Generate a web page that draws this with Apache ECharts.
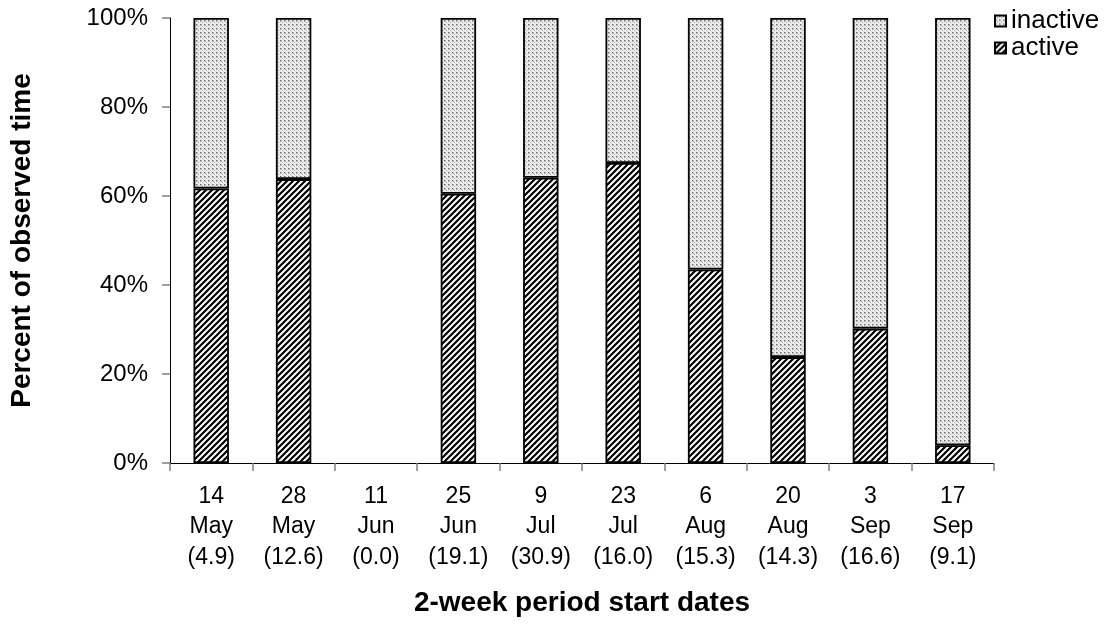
<!DOCTYPE html>
<html>
<head>
<meta charset="utf-8">
<script src="https://cdn.jsdelivr.net/npm/echarts@6/dist/echarts.min.js"></script>
<style>
html,body{margin:0;padding:0;background:#fff;}
#chart{width:1109px;height:624px;}
</style>
</head>
<body>
<div id="chart"></div>
<script>
const categories = ['14\nMay\n(4.9)', '28\nMay\n(12.6)', '11\nJun\n(0.0)', '25\nJun\n(19.1)', '9\nJul\n(30.9)', '23\nJul\n(16.0)', '6\nAug\n(15.3)', '20\nAug\n(14.3)', '3\nSep\n(16.6)', '17\nSep\n(9.1)'];
const activeValues = [61.7, 63.8, 0, 60.5, 64.1, 67.4, 43.5, 23.8, 30.2, 4.0];
const inactiveValues = [38.3, 36.2, 0, 39.5, 35.9, 32.6, 56.5, 76.2, 69.8, 96.0];
const yTicks = [0, 20, 40, 60, 80, 100];

function hatchPattern() {
  const c = document.createElement('canvas');
  c.width = 6; c.height = 6;
  const g = c.getContext('2d');
  g.fillStyle = '#ffffff';
  g.fillRect(0, 0, 6, 6);
  g.strokeStyle = '#000000';
  g.lineWidth = 2.2;
  g.beginPath();
  g.moveTo(-3, 3); g.lineTo(3, -3);
  g.moveTo(0, 6); g.lineTo(6, 0);
  g.moveTo(3, 9); g.lineTo(9, 3);
  g.stroke();
  return c;
}
function dotPattern() {
  const c = document.createElement('canvas');
  c.width = 4; c.height = 4;
  const g = c.getContext('2d');
  g.fillStyle = '#ececec';
  g.fillRect(0, 0, 4, 4);
  g.fillStyle = '#6e6e6e';
  g.fillRect(0, 0, 1.5, 1.5);
  g.fillStyle = '#a8a8a8';
  g.fillRect(2, 2, 1, 1);
  return c;
}
const toBars = arr => arr.map(v => (v === 0 ? '-' : v));

const chart = echarts.init(document.getElementById('chart'), null, {renderer: 'canvas'});
const font = 'Liberation Sans, Arial, sans-serif';
chart.setOption({
  animation: false,
  backgroundColor: '#ffffff',
  textStyle: {fontFamily: font},
  grid: {left: 170, right: 115, top: 18, bottom: 161, containLabel: false, outerBoundsMode: 'none'},
  legend: {
    data: ['inactive', 'active'],
    orient: 'vertical',
    left: 994, top: 8, padding: 0,
    icon: 'rect',
    itemWidth: 11, itemHeight: 11, itemGap: 1,
    textStyle: {fontSize: 26, color: '#000', fontFamily: font}
  },
  xAxis: {
    type: 'category',
    data: categories,
    axisLine: {lineStyle: {color: '#000', width: 1}},
    axisTick: {show: true, length: 8, lineStyle: {color: '#808080', width: 1.5}},
    axisLabel: {color: '#000', fontSize: 23, lineHeight: 30.5, margin: 18, interval: 0, fontFamily: font},
    name: '2-week period start dates',
    nameLocation: 'middle',
    nameGap: 126,
    nameTextStyle: {fontSize: 28, fontWeight: 'bold', color: '#000', fontFamily: font}
  },
  yAxis: {
    type: 'value',
    min: yTicks[0], max: yTicks[yTicks.length - 1], interval: 20,
    splitLine: {show: false},
    axisLine: {show: true, lineStyle: {color: '#000', width: 1}},
    axisTick: {show: true, length: 8, lineStyle: {color: '#808080', width: 1.5}},
    axisLabel: {color: '#000', fontSize: 24, margin: 22, formatter: '{value}%', fontFamily: font},
    name: 'Percent of observed time',
    nameLocation: 'middle',
    nameGap: 134,
    nameTextStyle: {fontSize: 28, fontWeight: 'bold', color: '#000', fontFamily: font}
  },
  series: [
    {
      name: 'active', type: 'bar', stack: 'all', barWidth: '43%',
      data: toBars(activeValues),
      itemStyle: {color: {image: hatchPattern(), repeat: 'repeat'}, borderColor: '#000', borderWidth: 1.8}
    },
    {
      name: 'inactive', type: 'bar', stack: 'all', barWidth: '43%',
      data: toBars(inactiveValues),
      itemStyle: {color: {image: dotPattern(), repeat: 'repeat'}, borderColor: '#000', borderWidth: 1.8}
    }
  ]
});
</script>
</body>
</html>
